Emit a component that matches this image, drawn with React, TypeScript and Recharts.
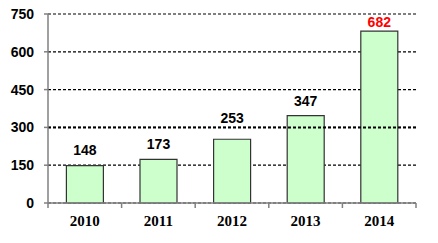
import { BarChart, Bar, XAxis, YAxis, CartesianGrid, LabelList, ReferenceLine } from "recharts";

const years = ["2010", "2011", "2012", "2013", "2014"];
const counts = [148, 173, 253, 347, 682];
const labelColors = ["#000000", "#000000", "#000000", "#000000", "#ff0000"];
const yTicks = [0, 150, 300, 450, 600, 750];

const data = years.map((year, i) => ({ year, count: counts[i] }));

// labels in the original were nudged by hand, so each one sits at its own height above the bar
const labelLift = [16, 15, 21, 15, 9];

const renderLabel = (props: any) => {
  const { x, y, width, value, index } = props;
  return (
    <text
      x={x + width / 2}
      y={y - labelLift[index] + 5}
      textAnchor="middle"
      fontFamily="'Liberation Sans', Arial, sans-serif"
      fontWeight="bold"
      fontSize={14}
      fill={labelColors[index]}
    >
      {value}
    </text>
  );
};

// category label plus a tick mark at the left edge of each band (and the right edge of the last)
const renderXTick = (props: any) => {
  const { x, y, payload, index } = props;
  const half = payload && payload.offset ? payload.offset : 36.8;
  const axisY = y - 12;
  return (
    <g>
      <line x1={x - half} y1={axisY} x2={x - half} y2={axisY + 5} stroke="#808080" strokeWidth={1.5} />
      {index === years.length - 1 && (
        <line x1={x + half} y1={axisY} x2={x + half} y2={axisY + 5} stroke="#808080" strokeWidth={1.5} />
      )}
      <text
        x={x}
        y={y}
        dy="0.71em"
        textAnchor="middle"
        fontFamily="'Liberation Serif', 'Times New Roman', serif"
        fontWeight="bold"
        fontSize={15}
        fill="#000"
      >
        {payload.value}
      </text>
    </g>
  );
};

export default function App() {
  return (
    <div style={{ position: "absolute", top: 0, left: 0, background: "#fff" }}>
      <BarChart width={438} height={243} data={data} margin={{ top: 14, right: 22, left: 0, bottom: 0 }} barCategoryGap="25%">
        <CartesianGrid horizontal vertical={false} stroke="#000" strokeDasharray="3 2" strokeWidth={1.2} />
        <ReferenceLine y={300} stroke="#000" strokeDasharray="3 2" strokeWidth={2} />
        <XAxis
          dataKey="year"
          height={40}
          axisLine={{ stroke: "#808080", strokeWidth: 1.5 }}
          tickLine={false}
          tickSize={0}
          tickMargin={12}
          tick={renderXTick}
        />
        <YAxis
          domain={[0, 750]}
          ticks={yTicks}
          width={48}
          axisLine={{ stroke: "#808080", strokeWidth: 1.5 }}
          tickLine={{ stroke: "#808080", strokeWidth: 1.5 }}
          tickSize={4}
          tickMargin={10}
          tick={{ fontFamily: "'Liberation Sans', Arial, sans-serif", fontWeight: "bold", fontSize: 14, fill: "#000" }}
          interval={0}
        />
        <Bar dataKey="count" fill="#ccffcc" stroke="#333333" strokeWidth={1.2} isAnimationActive={false}>
          <LabelList dataKey="count" content={renderLabel} />
        </Bar>
      </BarChart>
    </div>
  );
}
